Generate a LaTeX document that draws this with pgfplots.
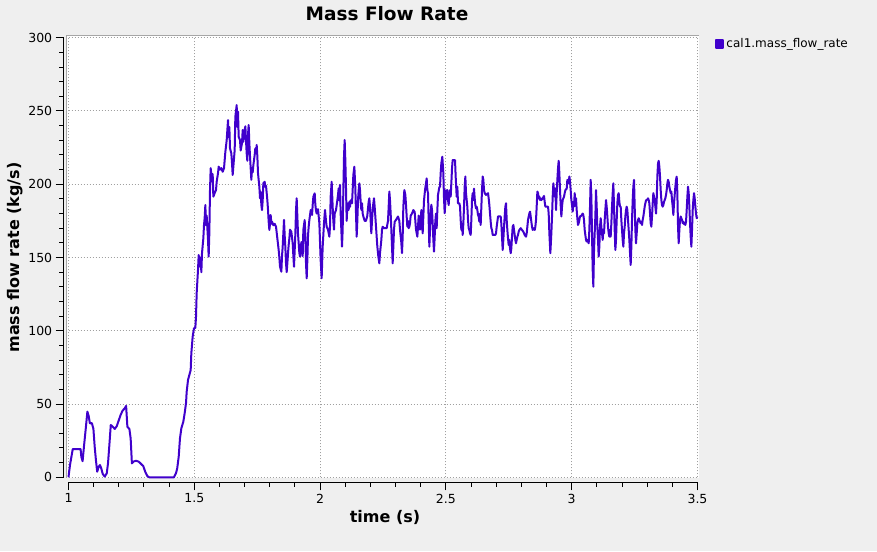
\documentclass[border=0pt]{standalone}
\usepackage{fontspec}
\setmainfont{DejaVu Sans}
\usepackage{pgfplots}
\pgfplotsset{compat=1.18}
\definecolor{bgc}{RGB}{239,239,239}
\definecolor{lc}{RGB}{64,0,204}
\definecolor{gridc}{RGB}{160,160,160}
\pgfplotstableread{
t y
1.000 0
1.002 3
1.006 8.4
1.014 16.4
1.017 19.3
1.048 19.3
1.051 14
1.056 11
1.062 22
1.070 35.7
1.075 44.8
1.080 42
1.085 36.8
1.093 37
1.099 33
1.104 21
1.109 11.7
1.114 3.8
1.120 7.2
1.125 8.4
1.130 6.2
1.136 2.3
1.144 0.5
1.152 2.7
1.157 9.5
1.162 21
1.168 35.7
1.176 34.5
1.184 33
1.192 35
1.200 39
1.207 42.5
1.215 45.5
1.223 47
1.229 48.7
1.234 34.5
1.242 33
1.247 26.6
1.252 9.5
1.258 10.7
1.268 11.3
1.279 10.7
1.289 9
1.297 7.7
1.305 3.8
1.313 0.9
1.321 0
1.419 0
1.427 2.7
1.432 6
1.438 14
1.443 26.5
1.4485 33.4
1.4564 38
1.4617 43.7
1.4670 50.5
1.4697 58.4
1.4750 66.4
1.4803 69.8
1.4856 73.2
1.4882 84.6
1.4935 96
1.4988 101.7
1.5041 102
1.5068 109.6
1.5094 125.6
1.5147 141.5
1.5174 151.7
1.5227 143.7
1.5253 150
1.5280 140
1.5306 152.9
1.5359 163
1.5386 172.2
1.5412 177
1.5439 185.8
1.5465 172
1.5492 178.6
1.5545 162
1.5571 150.6
1.5598 167
1.5624 196
1.5651 211
1.5704 201.7
1.5730 207
1.5757 191.5
1.5810 194
1.5863 196
1.5889 201.7
1.5942 207.5
1.5969 212
1.6022 210
1.6075 211
1.6128 208.5
1.6181 211
1.6234 222
1.6287 230
1.6340 243.8
1.6366 232
1.6393 239
1.6419 224.5
1.6472 221
1.6499 214.3
1.6525 206.3
1.6552 212
1.6605 223.4
1.6631 246
1.6684 254
1.6711 239
1.6737 249.5
1.6764 232.4
1.6817 230
1.6843 223
1.6896 228
1.6923 237
1.6949 229
1.6976 235
1.7029 239.5
1.7055 230
1.7082 221
1.7108 216
1.7135 234
1.7161 240.4
1.7188 228
1.7214 219
1.7241 211
1.7267 203
1.7294 211
1.7320 208
1.7347 213
1.7400 220
1.7426 224.5
1.7453 221
1.7479 226.8
1.7506 219
1.7532 207.5
1.7585 198.3
1.7612 190.4
1.7638 195
1.7665 185.8
1.7691 182.4
1.7718 189
1.7744 200.6
1.7797 201.7
1.7824 198
1.7850 199
1.7903 189.2
1.7930 182.4
1.7956 174.4
1.7983 168.8
1.8009 173
1.8036 179
1.8062 173
1.8089 174.5
1.8142 172
1.8195 173
1.8248 171
1.8301 163
1.8354 155
1.8380 150
1.8407 143.7
1.8460 140.3
1.8486 151
1.8513 157.4
1.8539 166.5
1.8566 175.6
1.8592 165
1.8619 157
1.8645 146
1.8672 140
1.8698 146
1.8725 153
1.8751 158.6
1.8778 163
1.8804 169
1.8857 167.5
1.8910 159.8
1.8937 151
1.8963 143.7
1.8990 155
1.9016 166
1.9043 182.4
1.9069 190.4
1.9096 178
1.9122 166
1.9149 159.8
1.9175 153
1.9202 150.6
1.9228 155
1.9255 160.5
1.9281 155
1.9308 151
1.9334 168.8
1.9387 175.6
1.9414 165
1.9440 146
1.9467 135.8
1.9493 148
1.9520 165
1.9546 171
1.9573 175.6
1.9626 182.4
1.9679 179
1.9705 185.8
1.9732 191.5
1.9785 193.8
1.9811 186
1.9838 182
1.9864 180
1.9917 183
1.9970 173.4
2.0022 148.3
2.0062 135.8
2.0102 157.4
2.0155 173.3
2.0195 182.4
2.0234 175
2.0261 171
2.0314 169
2.0367 164.2
2.0393 171
2.0420 191.5
2.0460 201.7
2.0499 184.6
2.0526 175
2.0552 169
2.0579 180
2.0632 182.4
2.0685 189
2.0711 192.7
2.0738 197.2
2.0764 189
2.0791 199.5
2.0817 180
2.0844 169
2.0870 157.4
2.0897 169
2.0923 195
2.0950 218.8
2.0976 230.2
2.1003 216.5
2.1029 197.5
2.1056 175
2.1082 184.6
2.1109 187
2.1135 182.4
2.1162 188
2.1188 184.6
2.1215 189
2.1268 187
2.1294 196
2.1321 206.3
2.1361 212
2.1400 197.5
2.1427 180
2.1453 164.2
2.1480 175
2.1506 189
2.1533 196
2.1559 200.6
2.1586 196
2.1612 188
2.1639 182.4
2.1665 187
2.1692 180
2.1718 178
2.1771 175
2.1824 175
2.1877 178.6
2.1904 183.5
2.1930 188
2.1957 190.4
2.1983 184.6
2.2010 175
2.2036 166.5
2.2063 175
2.2089 182.4
2.2116 187
2.2142 190.4
2.2169 184.6
2.2195 178
2.2222 171
2.2248 164.2
2.2275 157.4
2.2315 150.6
2.2354 146
2.2381 153
2.2407 157.4
2.2434 162
2.2460 169
2.2487 171
2.2540 170
2.2593 170
2.2646 170
2.2699 175
2.2725 184.6
2.2752 195
2.2778 189
2.2805 180
2.2831 169
2.2858 157.4
2.2884 146
2.2911 157.4
2.2937 169
2.2964 174.4
2.2990 175
2.3043 176.4
2.3096 178
2.3149 175
2.3176 169
2.3229 160
2.3255 153
2.3282 164.2
2.3308 184.6
2.3348 196
2.3388 192.7
2.3414 186
2.3441 178
2.3467 171
2.3494 175
2.3520 170
2.3547 171
2.3573 173.4
2.3600 178.6
2.3653 180
2.3706 182.4
2.3759 181
2.3785 175
2.3812 169
2.3865 164.2
2.3891 171
2.3918 178.6
2.3944 175
2.3971 169
2.3997 175
2.4024 182.4
2.4050 173.4
2.4077 166.5
2.4103 178
2.4130 189
2.4170 196
2.4209 200.6
2.4236 204
2.4262 196
2.4289 194
2.4315 175
2.4342 157.4
2.4368 169
2.4395 180
2.4421 186
2.4448 182.4
2.4474 173.4
2.4501 162
2.4527 154
2.4554 164.2
2.4580 175
2.4607 180
2.4633 170
2.4660 182.4
2.4686 192.7
2.4739 198
2.4766 198.3
2.4792 207.5
2.4819 214.3
2.4858 218.8
2.4898 207.5
2.4925 190.4
2.4951 180.2
2.4978 187
2.5004 196
2.5031 191.5
2.5057 196
2.5084 189.2
2.5110 185.8
2.5137 193
2.5163 196
2.5190 191.5
2.5216 200.6
2.5243 210.9
2.5269 216.5
2.5362 216.5
2.5388 205.3
2.5415 196
2.5428 191.5
2.5455 198.3
2.5481 187
2.5534 187
2.5561 184.7
2.5587 175.6
2.5614 168.8
2.5640 173
2.5667 165.4
2.5693 173
2.5720 184.7
2.5746 198.3
2.5773 205.3
2.5799 193.9
2.5826 189.2
2.5852 184.7
2.5879 175.6
2.5905 170
2.5932 168.8
2.5958 166.5
2.5985 165.4
2.6011 175.6
2.6038 189.2
2.6064 193.9
2.6091 189.2
2.6117 197
2.6144 190.4
2.6170 185.8
2.6197 183.5
2.6223 184.7
2.6250 182.4
2.6276 179
2.6303 178
2.6329 174.4
2.6356 180
2.6382 172.2
2.6409 184.7
2.6435 196
2.6462 205.3
2.6488 203
2.6515 196
2.6541 193.9
2.6594 192.7
2.6674 193.9
2.6700 190.4
2.6727 185.8
2.6753 180
2.6780 174.4
2.6806 170
2.6833 168.8
2.6859 165.4
2.6965 165.4
2.6992 166.5
2.7018 171
2.7045 174.4
2.7071 178
2.7177 178
2.7204 173
2.7230 164.2
2.7257 155.1
2.7283 162
2.7310 171
2.7336 178
2.7363 184.7
2.7389 187
2.7416 175.6
2.7442 168.8
2.7469 163
2.7495 158.5
2.7522 162
2.7548 156.3
2.7575 152.9
2.7601 156.3
2.7628 164.2
2.7654 171
2.7681 172.2
2.7707 168.8
2.7734 165.4
2.7760 162
2.7787 159.7
2.7813 162
2.7840 164.2
2.7866 165.4
2.7893 167.6
2.7919 168.8
2.7972 170
2.8025 168.8
2.8078 167.6
2.8131 165.4
2.8184 164.2
2.8211 166.5
2.8237 171
2.8264 175.6
2.8290 178
2.8317 180
2.8343 181.3
2.8370 178
2.8396 174.4
2.8423 171
2.8449 168.8
2.8476 170
2.8529 168.8
2.8555 171
2.8582 175.6
2.8608 184.7
2.8635 195
2.8661 193.9
2.8688 190.4
2.8714 191.5
2.8741 189.2
2.8767 190.4
2.8794 189.2
2.8847 190.4
2.8900 192
2.8926 188
2.8953 184.7
2.9059 184.7
2.9085 180
2.9112 166.5
2.9151 152.9
2.9191 166.5
2.9218 178
2.9244 191.5
2.9271 200.6
2.9297 196
2.9324 191.5
2.9350 197
2.9377 182.4
2.9403 193.9
2.9430 203
2.9456 210.9
2.9483 216
2.9509 207.5
2.9536 196
2.9562 185.8
2.9589 178
2.9615 184.7
2.9642 189.2
2.9695 191.5
2.9721 193.9
2.9748 196
2.9801 197
2.9827 203
2.9880 200.6
2.9907 205.3
2.9933 201.7
2.9959 196
2.9986 189.2
3.0012 185.8
3.0039 181.3
3.0065 188
3.0092 184.7
3.0118 193.9
3.0145 187
3.0171 190.4
3.0198 182.4
3.0224 176.8
3.0251 172.2
3.0277 173.4
3.0304 175.6
3.0330 178
3.0383 178.5
3.0436 180
3.0463 179
3.0489 175.6
3.0516 168.8
3.0542 165.4
3.0569 162
3.0595 160.9
3.0622 162
3.0675 159.7
3.0701 168.8
3.0728 184.7
3.0754 203
3.0781 191.5
3.0807 166.5
3.0834 141.5
3.0860 130.1
3.0887 155.1
3.0913 166.5
3.0940 178
3.0966 196
3.0993 184.7
3.1019 171
3.1046 162
3.1072 150.6
3.1099 157.4
3.1125 171
3.1152 176.8
3.1178 171
3.1205 166.5
3.1231 162
3.1258 168.8
3.1284 166.5
3.1311 175.6
3.1337 182.4
3.1364 189.2
3.1390 184.7
3.1417 178
3.1443 171
3.1470 166.5
3.1496 164.2
3.1523 168.8
3.1549 164.2
3.1576 173.4
3.1602 184.7
3.1629 193.9
3.1655 200.6
3.1682 184.7
3.1708 168.8
3.1735 155.1
3.1761 162
3.1788 175.6
3.1814 187
3.1841 192.7
3.1867 193.9
3.1894 188
3.1920 184.7
3.1947 184.7
3.1973 175.6
3.2000 168.8
3.2026 162
3.2053 157.4
3.2079 166.5
3.2106 171
3.2132 178
3.2159 182.4
3.2185 184.7
3.2212 182.4
3.2238 175.6
3.2265 168.8
3.2291 162
3.2318 152.9
3.2344 144.9
3.2371 157.4
3.2397 175.6
3.2424 189.2
3.2450 198.3
3.2477 203
3.2503 184.7
3.2530 168.8
3.2556 159.7
3.2583 166.5
3.2609 173.4
3.2636 175.6
3.2662 176.8
3.2689 175.6
3.2715 174.4
3.2742 173.4
3.2768 174.4
3.2795 172.2
3.2821 175.6
3.2848 178
3.2874 181.3
3.2901 184.7
3.2927 187
3.2954 189
3.3007 189.6
3.3033 190.4
3.3060 189.2
3.3086 187
3.3113 180
3.3139 173.4
3.3166 171
3.3192 178
3.3219 187
3.3245 193.9
3.3272 191.5
3.3298 189.2
3.3325 184.7
3.3351 180
3.3378 189.2
3.3404 205.2
3.3431 214.3
3.3457 216
3.3484 212
3.3510 205.2
3.3537 196
3.3563 189.2
3.3590 185.8
3.3616 184.7
3.3643 185.8
3.3669 188
3.3696 189.2
3.3722 190.4
3.3749 192.7
3.3775 196
3.3802 200.6
3.3828 203
3.3855 201.7
3.3881 198.3
3.3908 196
3.3934 193.9
3.3961 195
3.3987 189.2
3.4014 184.7
3.4040 179
3.4067 187
3.4093 192.7
3.4120 198.3
3.4146 203
3.4173 205.2
3.4199 193.9
3.4226 171
3.4252 159.7
3.4279 168.8
3.4305 175.6
3.4332 178
3.4358 176.8
3.4385 175.6
3.4411 173.4
3.4438 174.4
3.4464 172.8
3.4491 173.7
3.4517 172.2
3.4544 174.4
3.4570 182.4
3.4597 191.5
3.4623 198.3
3.4650 193.9
3.4676 184.7
3.4703 173.4
3.4729 164.2
3.4756 157.4
3.4782 168.8
3.4809 182.4
3.4835 189.2
3.4862 193.9
3.4888 190.4
3.4915 184.7
3.4941 180
3.4968 176.8
3.4994 178
}\flowdata

\begin{document}
\begin{tikzpicture}[x=1pt,y=1pt]
\fill[bgc] (0,0) rectangle (877,551);
\fill[white] (66,73) rectangle (699,516);
\draw[gray!70, line width=1pt] (66.5,73) -- (66.5,515.5) -- (699,515.5);

\begin{axis}[
  at={(68.5pt,73.7pt)}, anchor=south west,
  scale only axis, width=629pt, height=439.6pt,
  xmin=1, xmax=3.5, ymin=0, ymax=300,
  xtick={1,1.5,2,2.5,3,3.5}, ytick={0,50,100,150,200,250,300},
  xticklabels={}, yticklabels={},
  major tick length=0pt,
  axis line style={draw=none},
  grid=major,
  grid style={gridc, line width=1pt, dash pattern=on 1pt off 2pt},
  clip=false,
  legend style={draw=none, fill=none, at={(1.0278,0.9857)}, anchor=west,
    inner sep=0pt, outer sep=0pt, font=\fontsize{12}{14}\selectfont},
  legend cell align=left,
  legend image code/.code={\fill[lc] (0pt,-3.8pt) rectangle (7.5pt,3.8pt);},
]
\addplot[lc, line width=2pt, line join=round] table[x=t, y=y] {\flowdata};
\addlegendentry{cal1.mass\_flow\_rate}
\end{axis}

% x axis (detached)
\begin{axis}[
  at={(68.5pt,68.7pt)}, anchor=south west,
  scale only axis, width=629pt, height=439.6pt,
  xmin=1, xmax=3.5, ymin=0, ymax=300,
  axis x line=bottom, hide y axis,
  axis line style={-, black, line width=1pt},
  xtick={1,1.5,2,2.5,3,3.5}, minor x tick num=4,
  tick align=outside, major tick length=8pt, minor tick length=4.5pt,
  tick style={black, line width=1pt},
  xticklabel style={font=\fontsize{12.5}{15}\selectfont},
  /pgf/number format/assume math mode=true,
]
\end{axis}

% y axis (detached)
\begin{axis}[
  at={(63.7pt,73.7pt)}, anchor=south west,
  scale only axis, width=629pt, height=439.6pt,
  xmin=1, xmax=3.5, ymin=0, ymax=300,
  axis y line=left, hide x axis,
  axis line style={-, black, line width=1pt},
  ytick={0,50,100,150,200,250,300}, minor y tick num=4,
  tick align=outside, major tick length=8pt, minor tick length=4.5pt,
  tick style={black, line width=1pt},
  yticklabel style={font=\fontsize{12.5}{15}\selectfont},
  /pgf/number format/assume math mode=true,
]
\end{axis}

\node[anchor=base, font=\fontsize{18.5}{22}\selectfont\bfseries] at (387,530.3) {Mass Flow Rate};
\node[anchor=base, font=\fontsize{16}{19}\selectfont\bfseries] at (385,28.3) {time (s)};
\node[anchor=base, rotate=90, font=\fontsize{16}{19}\selectfont\bfseries] at (20,293.5) {mass flow rate (kg/s)};
\end{tikzpicture}
\end{document}
